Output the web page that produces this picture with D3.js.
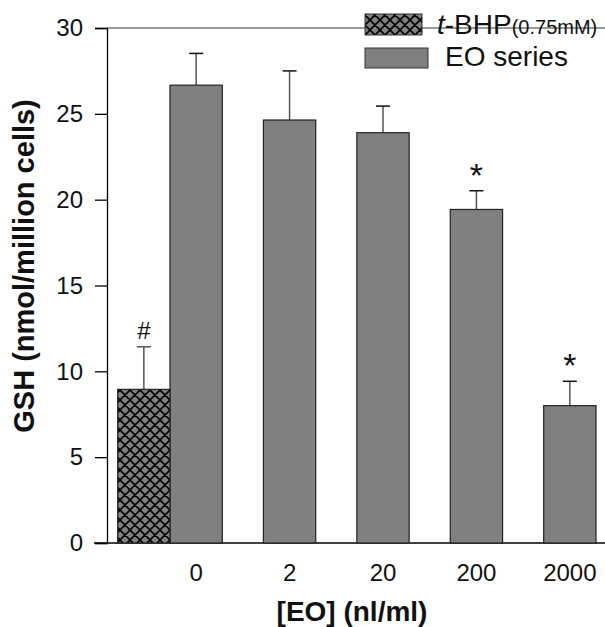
<!DOCTYPE html>
<html>
<head>
<meta charset="utf-8">
<script src="https://cdn.jsdelivr.net/npm/d3@7"></script>
<style>
  body { margin: 0; background: #fff; }
  svg { display: block; font-family: Arial, 'Liberation Sans', sans-serif; }
</style>
</head>
<body>
<div id="chart"></div>
<script>
const categories = ['0', '2', '20', '200', '2000']
const eoMeans = [26.67, 24.64, 23.9, 19.43, 8.0]
const eoErrors = [1.85, 2.86, 1.55, 1.09, 1.42]
const eoMarks = ['', '', '', '*', '*']
const tbhpMean = 8.95
const tbhpError = 2.48
const tbhpMark = '#'
const yTicks = [0, 5, 10, 15, 20, 25, 30]

const width = 605
const height = 627
const svg = d3.select('#chart').append('svg')
  .attr('width', width)
  .attr('height', height)

// cross-hatch fill for the t-BHP bar
const defs = svg.append('defs')
const pat = defs.append('pattern')
  .attr('id', 'hatch')
  .attr('patternUnits', 'userSpaceOnUse')
  .attr('width', 10)
  .attr('height', 10)
pat.append('rect').attr('width', 10).attr('height', 10).attr('fill', '#808080')
pat.append('path')
  .attr('d', 'M0,0 L10,10 M10,0 L0,10 M-1,9 L1,11 M9,-1 L11,1 M-1,1 L1,-1 M9,11 L11,9')
  .attr('stroke', '#000')
  .attr('stroke-width', 1.6)

const y = d3.scaleLinear().domain([0, 30]).range([543, 28])
const x = d3.scaleBand().domain(categories).range([170, 596]).paddingInner(0.44).paddingOuter(0)
const bw = x.bandwidth()

// top frame line
svg.append('line')
  .attr('x1', 107).attr('x2', width)
  .attr('y1', y(30)).attr('y2', y(30))
  .attr('stroke', '#777').attr('stroke-width', 1.5)

// y axis
const yAxis = svg.append('g')
  .attr('transform', 'translate(107,0)')
  .call(d3.axisLeft(y).tickValues(yTicks).tickSize(12).tickPadding(12))
yAxis.select('.domain').attr('stroke', '#000').attr('stroke-width', 1.3)
yAxis.selectAll('.tick line').attr('stroke', '#000').attr('stroke-width', 1.3)
yAxis.selectAll('.tick text')
  .attr('font-size', '24px')
  .attr('fill', '#111')
  .attr('font-family', 'Arial, Liberation Sans, sans-serif')

// x axis baseline and labels
svg.append('line')
  .attr('x1', 94).attr('x2', width)
  .attr('y1', y(0)).attr('y2', y(0))
  .attr('stroke', '#000').attr('stroke-width', 1.5)
svg.append('g').selectAll('text')
  .data(categories)
  .enter().append('text')
  .attr('x', d => x(d) + bw / 2)
  .attr('y', 581)
  .attr('text-anchor', 'middle')
  .attr('font-size', '24px')
  .attr('fill', '#111')
  .text(d => d)

// EO bars
const bars = svg.append('g').selectAll('g')
  .data(categories.map((c, i) => ({ c, m: eoMeans[i], e: eoErrors[i], s: eoMarks[i] })))
  .enter().append('g')
bars.append('line')
  .attr('x1', d => x(d.c) + bw / 2).attr('x2', d => x(d.c) + bw / 2)
  .attr('y1', d => y(d.m)).attr('y2', d => y(d.m + d.e))
  .attr('stroke', '#555').attr('stroke-width', 1.5)
bars.append('line')
  .attr('x1', d => x(d.c) + bw / 2 - 7).attr('x2', d => x(d.c) + bw / 2 + 7)
  .attr('y1', d => y(d.m + d.e)).attr('y2', d => y(d.m + d.e))
  .attr('stroke', '#111').attr('stroke-width', 1.5)
bars.append('rect')
  .attr('x', d => x(d.c))
  .attr('y', d => y(d.m))
  .attr('width', bw)
  .attr('height', d => y(0) - y(d.m))
  .attr('fill', '#808080')
  .attr('stroke', '#222')
  .attr('stroke-width', 1.2)
bars.append('text')
  .attr('x', d => x(d.c) + bw / 2)
  .attr('y', d => y(d.m + d.e) - 4)
  .attr('text-anchor', 'middle')
  .attr('font-size', '34px')
  .attr('fill', '#111')
  .text(d => d.s)

// t-BHP bar, placed directly left of the '0' bar
const tx = x(categories[0]) - bw
svg.append('line')
  .attr('x1', tx + bw / 2).attr('x2', tx + bw / 2)
  .attr('y1', y(tbhpMean)).attr('y2', y(tbhpMean + tbhpError))
  .attr('stroke', '#555').attr('stroke-width', 1.5)
svg.append('line')
  .attr('x1', tx + bw / 2 - 7).attr('x2', tx + bw / 2 + 7)
  .attr('y1', y(tbhpMean + tbhpError)).attr('y2', y(tbhpMean + tbhpError))
  .attr('stroke', '#555').attr('stroke-width', 1.5)
svg.append('rect')
  .attr('x', tx)
  .attr('y', y(tbhpMean))
  .attr('width', bw)
  .attr('height', y(0) - y(tbhpMean))
  .attr('fill', 'url(#hatch)')
  .attr('stroke', '#222')
  .attr('stroke-width', 1.2)
svg.append('text')
  .attr('x', tx + bw / 2)
  .attr('y', y(tbhpMean + tbhpError) - 8)
  .attr('text-anchor', 'middle')
  .attr('font-size', '24px')
  .attr('fill', '#111')
  .text(tbhpMark)

// axis titles
svg.append('text')
  .attr('transform', 'translate(34,266) rotate(-90)')
  .attr('text-anchor', 'middle')
  .attr('font-size', '29px')
  .attr('font-weight', 'bold')
  .attr('fill', '#111')
  .text('GSH (nmol/million cells)')
svg.append('text')
  .attr('x', 352)
  .attr('y', 621)
  .attr('text-anchor', 'middle')
  .attr('font-size', '28px')
  .attr('font-weight', 'bold')
  .attr('fill', '#111')
  .text('[EO] (nl/ml)')

// legend
const lg = svg.append('g')
lg.append('rect')
  .attr('x', 365).attr('y', 14).attr('width', 57).attr('height', 21)
  .attr('fill', 'url(#hatch)').attr('stroke', '#333').attr('stroke-width', 1)
lg.append('rect')
  .attr('x', 365).attr('y', 48).attr('width', 63).attr('height', 20)
  .attr('fill', '#808080').attr('stroke', '#333').attr('stroke-width', 1)
const t1 = lg.append('text').attr('x', 437).attr('y', 34).attr('fill', '#111')
t1.append('tspan').attr('font-size', '28px').attr('font-style', 'italic').text('t')
t1.append('tspan').attr('font-size', '28px').text('-BHP')
t1.append('tspan').attr('font-size', '20px').text('(0.75mM)')
lg.append('text')
  .attr('x', 445).attr('y', 66)
  .attr('font-size', '28px')
  .attr('fill', '#111')
  .text('EO series')
</script>
</body>
</html>
